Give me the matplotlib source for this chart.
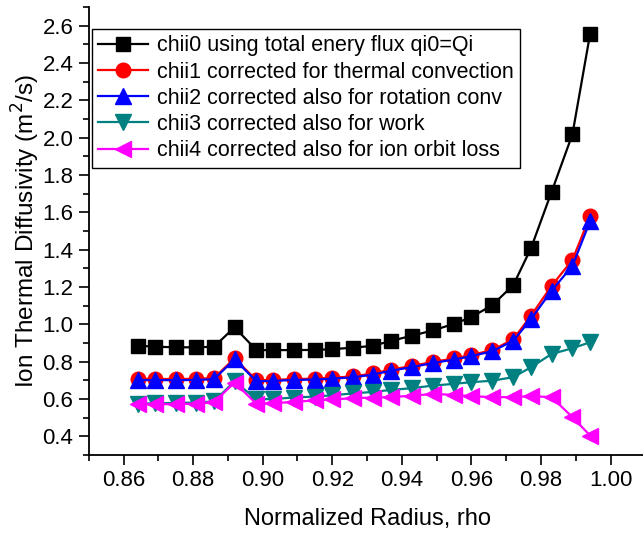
import matplotlib
matplotlib.use("Agg")
import matplotlib.pyplot as plt
from matplotlib.ticker import MultipleLocator, FormatStrFormatter

plt.rcParams["font.family"] = ["Liberation Sans", "DejaVu Sans"]

rho = [0.8641, 0.8691, 0.8752, 0.8809, 0.8860, 0.8919, 0.8982, 0.9030,
       0.9090, 0.9150, 0.9200, 0.9260, 0.9317, 0.9370, 0.9429, 0.9490,
       0.9549, 0.9598, 0.9660, 0.9720, 0.9771, 0.9830, 0.9890, 0.9941]

chii0 = [0.886, 0.880, 0.877, 0.877, 0.880, 0.984, 0.862, 0.862, 0.862, 0.863,
         0.867, 0.875, 0.885, 0.912, 0.939, 0.968, 1.002, 1.037, 1.103, 1.210,
         1.408, 1.709, 2.018, 2.558]
chii1 = [0.708, 0.707, 0.707, 0.708, 0.712, 0.818, 0.700, 0.702, 0.707, 0.709,
         0.714, 0.721, 0.737, 0.758, 0.777, 0.799, 0.817, 0.835, 0.862, 0.920,
         1.046, 1.206, 1.345, 1.581]
chii2 = [0.702, 0.701, 0.701, 0.702, 0.706, 0.812, 0.695, 0.697, 0.702, 0.704,
         0.709, 0.716, 0.731, 0.752, 0.771, 0.793, 0.811, 0.829, 0.856, 0.912,
         1.028, 1.180, 1.313, 1.554]
chii3 = [0.575, 0.577, 0.579, 0.581, 0.587, 0.695, 0.598, 0.600, 0.608, 0.613,
         0.620, 0.630, 0.638, 0.649, 0.658, 0.672, 0.681, 0.690, 0.698, 0.717,
         0.770, 0.841, 0.872, 0.904]
chii4 = [0.572, 0.572, 0.573, 0.575, 0.582, 0.688, 0.574, 0.577, 0.585, 0.592,
         0.598, 0.604, 0.608, 0.610, 0.618, 0.627, 0.622, 0.615, 0.610, 0.610,
         0.615, 0.610, 0.503, 0.404]

labels = [
    "chii0 using total enery flux qi0=Qi",
    "chii1 corrected for thermal convection",
    "chii2 corrected also for rotation conv",
    "chii3 corrected also for work",
    "chii4 corrected also for ion orbit loss",
]

W, H = 643, 533
fig = plt.figure(figsize=(W / 100, H / 100), dpi=100)
ax = fig.add_axes([88.7 / W, 78 / H, (645.5 - 88.7) / W, (455 - 7) / H])

series = [
    (chii0, "black", "s", 10),
    (chii1, "#ff0000", "o", 10.5),
    (chii2, "#0000ff", "^", 11),
    (chii3, "#008080", "v", 11),
    (chii4, "#ff00ff", "<", 11),
]
for (vals, col, mk, ms), lab in zip(series, labels):
    ax.plot(rho, vals, color=col, marker=mk, markersize=ms, linewidth=1.6,
            label=lab)

ax.set_xlim(0.85, 1.01)
ax.set_ylim(0.3, 2.7)
ax.xaxis.set_major_locator(MultipleLocator(0.02))
ax.xaxis.set_minor_locator(MultipleLocator(0.01))
ax.yaxis.set_major_locator(MultipleLocator(0.2))
ax.yaxis.set_minor_locator(MultipleLocator(0.1))
ax.xaxis.set_major_formatter(FormatStrFormatter("%.2f"))
ax.yaxis.set_major_formatter(FormatStrFormatter("%.1f"))

ax.spines["top"].set_visible(False)
ax.spines["right"].set_visible(False)
for s in ("left", "bottom"):
    ax.spines[s].set_linewidth(1.3)
ax.tick_params(which="major", direction="out", length=7, width=1.2,
               labelsize=16, pad=4)
ax.tick_params(which="minor", direction="out", length=4, width=1.2)

ax.set_xlabel("Normalized Radius, rho", fontsize=17, labelpad=12)
ax.set_ylabel("Ion Thermal Diffusivity (m$^2$/s)", fontsize=17.5, labelpad=0)

leg = ax.legend(loc="upper left", bbox_to_anchor=(92 / W, 1 - 29 / H),
                bbox_transform=fig.transFigure, borderaxespad=0,
                fontsize=15.5, fancybox=False, framealpha=1,
                edgecolor="black", handlelength=2.3, labelspacing=0.24,
                borderpad=0.3, handletextpad=0.4)
leg.get_frame().set_linewidth(1.0)

fig.savefig("out.png", dpi=100)
